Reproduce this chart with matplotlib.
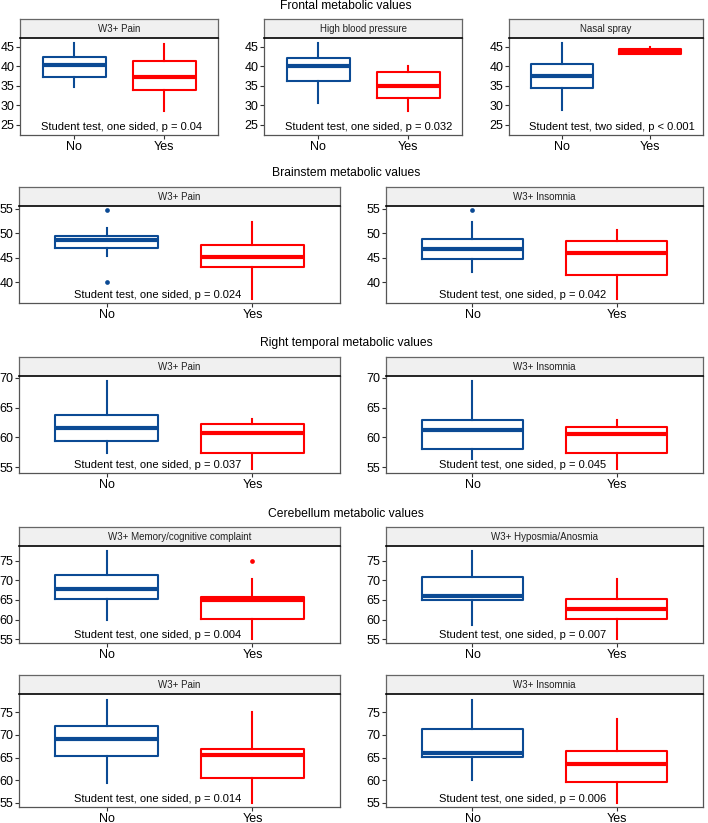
import matplotlib
matplotlib.use("Agg")
import matplotlib.pyplot as plt

plt.rcParams['font.family'] = ['Liberation Sans', 'DejaVu Sans']

# box stats per group: [whisker low, q1, median, q3, whisker high]
groups = ["No", "Yes"]

frontal_labels = ["W3+ Pain", "High blood pressure", "Nasal spray"]
frontal_no = [[34.6, 37.2, 40.3, 42.5, 46.1],
              [30.7, 36.3, 40.1, 42.1, 46.1],
              [28.7, 34.4, 37.5, 40.6, 46.1]]
frontal_yes = [[28.6, 33.9, 37.4, 41.4, 45.8],
               [28.6, 32.0, 35.0, 38.6, 40.1],
               [43.1, 43.2, 43.9, 44.4, 45.1]]
frontal_p = ["Student test, one sided, p = 0.04",
             "Student test, one sided, p = 0.032",
             "Student test, two sided, p < 0.001"]

brainstem_labels = ["W3+ Pain", "W3+ Insomnia"]
brainstem_no = [[45.3, 46.9, 48.6, 49.4, 51.1],
                [42.1, 44.8, 46.7, 48.8, 52.4]]
brainstem_no_out = [[54.7, 40.0], [54.7]]
brainstem_yes = [[36.5, 43.0, 45.2, 47.6, 52.3],
                 [36.5, 41.5, 45.9, 48.5, 50.6]]
brainstem_p = ["Student test, one sided, p = 0.024",
               "Student test, one sided, p = 0.042"]

temporal_labels = ["W3+ Pain", "W3+ Insomnia"]
temporal_no = [[57.4, 59.4, 61.5, 63.7, 69.5],
               [56.4, 58.0, 61.3, 62.9, 69.5]]
temporal_yes = [[54.7, 57.4, 60.8, 62.2, 63.1],
                [54.7, 57.3, 60.5, 61.8, 62.9]]
temporal_p = ["Student test, one sided, p = 0.037",
              "Student test, one sided, p = 0.045"]

cereb_labels = ["W3+ Memory/cognitive complaint", "W3+ Hyposmia/Anosmia",
                "W3+ Pain", "W3+ Insomnia"]
cereb_no = [[59.8, 65.3, 67.9, 71.3, 77.6],
            [58.7, 65.0, 65.9, 70.8, 77.6],
            [59.3, 65.3, 69.1, 72.0, 77.6],
            [60.1, 65.1, 66.1, 71.2, 77.6]]
cereb_yes = [[55.0, 60.1, 64.9, 65.7, 70.4],
             [55.0, 60.1, 62.6, 65.3, 70.4],
             [55.0, 60.6, 65.5, 66.8, 75.0],
             [55.0, 59.5, 63.6, 66.4, 73.5]]
cereb_yes_out = [[75.0], [], [], []]
cereb_p = ["Student test, one sided, p = 0.004",
           "Student test, one sided, p = 0.007",
           "Student test, one sided, p = 0.014",
           "Student test, one sided, p = 0.006"]

row_titles = ["Frontal metabolic values", "Brainstem metabolic values",
              "Right temporal metabolic values", "Cerebellum metabolic values"]

BLUE = "#0B4A94"
RED = "#FF0000"

W, H = 708, 823
fig = plt.figure(figsize=(W / 100, H / 100), dpi=100)


def stats(v, out=()):
    return dict(whislo=v[0], q1=v[1], med=v[2], q3=v[3], whishi=v[4], fliers=list(out))


def panel(x0, x1, y0, y1, label, no, yes, ptxt, ylim, yticks, no_out=(), yes_out=()):
    strip_h = 19
    ax = fig.add_axes([x0 / W, 1 - y1 / H, (x1 - x0) / W, (y1 - y0) / H])
    st = fig.add_axes([x0 / W, 1 - y0 / H, (x1 - x0) / W, strip_h / H])
    st.set_facecolor("#F0F0F0")
    st.set_xticks([])
    st.set_yticks([])
    for s in st.spines.values():
        s.set_color("#666666")
        s.set_linewidth(0.9)
    st.spines["bottom"].set_color("black")
    st.spines["bottom"].set_linewidth(1.2)
    st.text(0.5, 0.5, label, ha="center", va="center", fontsize=7, color="#222222",
            transform=st.transAxes)

    b = ax.bxp([stats(no, no_out), stats(yes, yes_out)], positions=[1, 2], widths=0.7,
               showcaps=False,
               boxprops=dict(linewidth=1.5),
               whiskerprops=dict(linewidth=1.5),
               medianprops=dict(linewidth=3.0, solid_capstyle="butt"),
               flierprops=dict(marker="o", markersize=3.4, markeredgewidth=0))
    for i, c in enumerate([BLUE, RED]):
        b["boxes"][i].set_color(c)
        b["medians"][i].set_color(c)
        b["whiskers"][2 * i].set_color(c)
        b["whiskers"][2 * i + 1].set_color(c)
        b["fliers"][i].set_markerfacecolor(c)

    ax.set_xlim(0.4, 2.6)
    ax.set_ylim(*ylim)
    ax.set_yticks(yticks)
    ax.set_xticks([1, 2])
    ax.set_xticklabels(groups)
    ax.tick_params(axis="y", labelsize=9, length=3, width=0.8, pad=1, color="#333333")
    ax.tick_params(axis="x", labelsize=9, length=3, width=0.8, pad=1, color="#333333")
    for s in ax.spines.values():
        s.set_color("#555555")
        s.set_linewidth(0.9)
    ax.spines["top"].set_visible(False)
    ax.annotate(ptxt, xy=(1, 0), xycoords=("data", "axes fraction"), xytext=(-33, 8),
                textcoords="offset pixels", ha="left", va="center", fontsize=8)
    return ax


# row 1
xs3 = [(20, 218), (264, 462), (509, 703)]
for i in range(3):
    panel(xs3[i][0], xs3[i][1], 38, 135, frontal_labels[i], frontal_no[i], frontal_yes[i],
          frontal_p[i], (22.4, 47.3), [25, 30, 35, 40, 45])

xs2 = [(19, 340), (386, 703)]
for i in range(2):
    panel(xs2[i][0], xs2[i][1], 206, 303, brainstem_labels[i], brainstem_no[i], brainstem_yes[i],
          brainstem_p[i], (35.7, 55.6), [40, 45, 50, 55], no_out=brainstem_no_out[i])
for i in range(2):
    panel(xs2[i][0], xs2[i][1], 376, 473, temporal_labels[i], temporal_no[i], temporal_yes[i],
          temporal_p[i], (54.0, 70.3), [55, 60, 65, 70])
for i in range(2):
    panel(xs2[i][0], xs2[i][1], 546, 643, cereb_labels[i], cereb_no[i], cereb_yes[i],
          cereb_p[i], (54.0, 78.8), [55, 60, 65, 70, 75], yes_out=cereb_yes_out[i])
for i in range(2):
    panel(xs2[i][0], xs2[i][1], 694, 807, cereb_labels[i + 2], cereb_no[i + 2], cereb_yes[i + 2],
          cereb_p[i + 2], (54.1, 79.0), [55, 60, 65, 70, 75], yes_out=cereb_yes_out[i + 2])

for t, y in zip(row_titles, [6, 173, 343, 514]):
    fig.text(346 / W, 1 - y / H, t, ha="center", va="center", fontsize=8.7)

fig.savefig("out.png", dpi=100)
